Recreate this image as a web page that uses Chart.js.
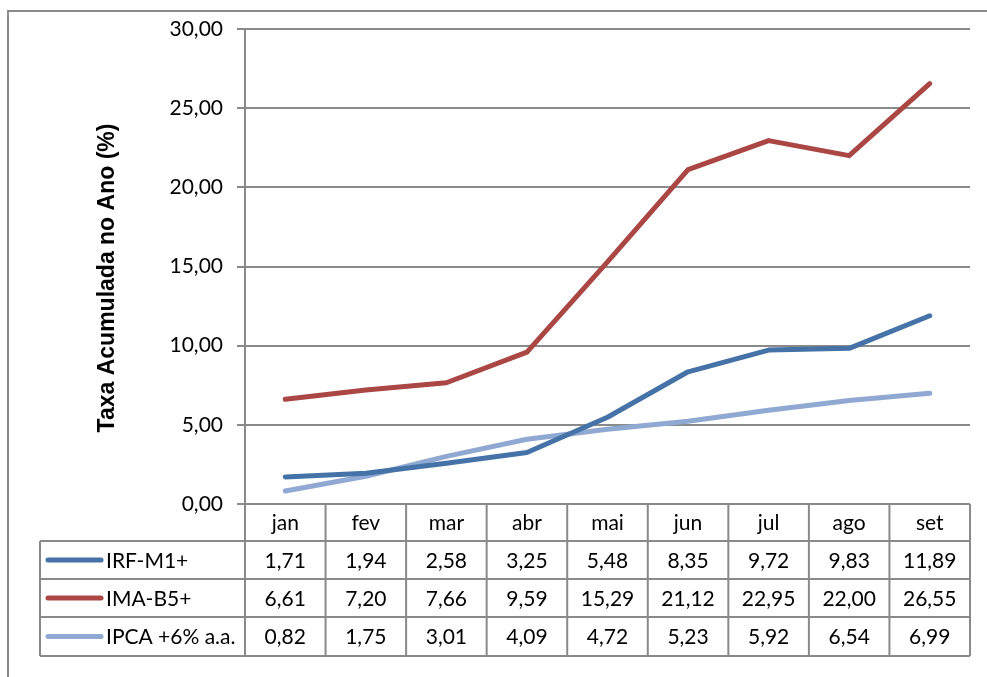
<!DOCTYPE html>
<html>
<head>
<meta charset="utf-8">
<script src="https://cdn.jsdelivr.net/npm/chart.js@4.4.0/dist/chart.umd.min.js"></script>
<style>
html,body{margin:0;padding:0;background:#fff;}
#wrap{width:987px;height:677px;position:relative;}
canvas{display:block;}
</style>
</head>
<body>
<div id="wrap"><canvas id="c" width="987" height="677"></canvas></div>
<script>
const categories = ["jan","fev","mar","abr","mai","jun","jul","ago","set"];
const irfM1 = [1.71,1.94,2.58,3.25,5.48,8.35,9.72,9.83,11.89];
const imaB5 = [6.61,7.20,7.66,9.59,15.29,21.12,22.95,22.00,26.55];
const ipca6 = [0.82,1.75,3.01,4.09,4.72,5.23,5.92,6.54,6.99];
const seriesNames = ["IRF-M1+","IMA-B5+","IPCA +6% a.a."];
const yTicks = [0,5,10,15,20,25,30];
const yTitle = "Taxa Acumulada no Ano (%)";

const colors = ["#4572A7","#AA4643","#8FA9D2"];
const FONT = "Lato, 'Open Sans', sans-serif";
const TITLE_FONT = "bold 23px 'Liberation Sans', Arial, sans-serif";
const FS = 21;
const gridColor = "#8a8a8a";
const fmt = v => v.toFixed(2).replace(".", ",");

const seriesData = [irfM1, imaB5, ipca6];

const tablePlugin = {
  id: "tablePlugin",
  beforeDraw(chart) {
    const ctx = chart.ctx;
    ctx.save();
    ctx.fillStyle = "#fff";
    ctx.fillRect(0,0,chart.width,chart.height);
    ctx.strokeStyle = "#8a8a8a";
    ctx.lineWidth = 2;
    ctx.beginPath();
    ctx.moveTo(8, chart.height);
    ctx.lineTo(8, 11);
    ctx.lineTo(chart.width, 11);
    ctx.stroke();
    ctx.restore();
  },
  afterDraw(chart) {
    const ctx = chart.ctx;
    const xs = chart.scales.x;
    const area = chart.chartArea;
    const n = categories.length;
    const cw = (area.right - area.left) / n;
    const top = area.bottom;
    const rowH = [37, 38, 38, 39];
    const ys = [top];
    rowH.forEach(h => ys.push(ys[ys.length-1] + h));
    const legLeft = 40;
    ctx.save();
    ctx.save();
    ctx.translate(114, 278);
    ctx.rotate(-Math.PI / 2);
    ctx.font = TITLE_FONT;
    ctx.fillStyle = "#000";
    ctx.textAlign = "center";
    ctx.textBaseline = "alphabetic";
    ctx.fillText(yTitle, 0, 0);
    ctx.restore();

    ctx.strokeStyle = "#8a8a8a";
    ctx.lineWidth = 2;
    ctx.beginPath();
    ctx.moveTo(area.left, ys[0]); ctx.lineTo(area.right, ys[0]);
    for (let r = 1; r < ys.length; r++) {
      ctx.moveTo(legLeft, ys[r]); ctx.lineTo(area.right, ys[r]);
    }
    for (let i = 0; i <= n; i++) {
      const x = area.left + i * cw;
      ctx.moveTo(x, ys[0]); ctx.lineTo(x, ys[ys.length-1]);
    }
    ctx.moveTo(legLeft, ys[1]); ctx.lineTo(legLeft, ys[ys.length-1]);
    ctx.stroke();

    ctx.fillStyle = "#000";
    ctx.font = FS + "px " + FONT;
    ctx.textAlign = "center";
    ctx.textBaseline = "middle";
    categories.forEach((c, i) => {
      const x = xs.getPixelForValue(i);
      ctx.fillText(c, x, (ys[0] + ys[1]) / 2 + 1);
    });
    seriesData.forEach((arr, r) => {
      const cy = (ys[r+1] + ys[r+2]) / 2 + 1;
      arr.forEach((v, i) => {
        ctx.fillText(fmt(v), xs.getPixelForValue(i), cy);
      });
      ctx.strokeStyle = colors[r];
      ctx.lineWidth = 5;
      ctx.lineCap = "round";
      ctx.beginPath();
      ctx.moveTo(48, cy - 1); ctx.lineTo(101, cy - 1);
      ctx.stroke();
      ctx.textAlign = "left";
      ctx.fillText(seriesNames[r], 106, cy);
      ctx.textAlign = "center";
    });
    ctx.restore();
  }
};

new Chart(document.getElementById("c"), {
  type: "line",
  data: {
    labels: categories,
    datasets: seriesData.map((d, i) => ({
      label: seriesNames[i],
      data: d,
      borderColor: colors[i],
      backgroundColor: colors[i],
      borderWidth: 5,
      pointRadius: 0,
      borderCapStyle: "round",
      borderJoinStyle: "round",
      tension: 0,
      fill: false
    }))
  },
  options: {
    responsive: false,
    devicePixelRatio: 1,
    animation: false,
    layout: { padding: { left: 0, right: 17, top: 29, bottom: 173 } },
    plugins: { legend: { display: false }, tooltip: { enabled: false } },
    scales: {
      x: { display: false, offset: true },
      y: {
        min: 0, max: 30,
        afterBuildTicks(scale) { scale.ticks = yTicks.map(v => ({ value: v })); },
        afterFit(scale) { scale.width = 245; },
        border: { display: true, color: gridColor, width: 2 },
        grid: { color: gridColor, lineWidth: 2, tickLength: 8, drawTicks: true },
        ticks: {
          color: "#000",
          font: { family: FONT, size: FS },
          padding: 14,
          callback: v => fmt(v)
        },
        title: { display: false, text: yTitle }
      }
    }
  },
  plugins: [tablePlugin]
});
</script>
</body>
</html>
